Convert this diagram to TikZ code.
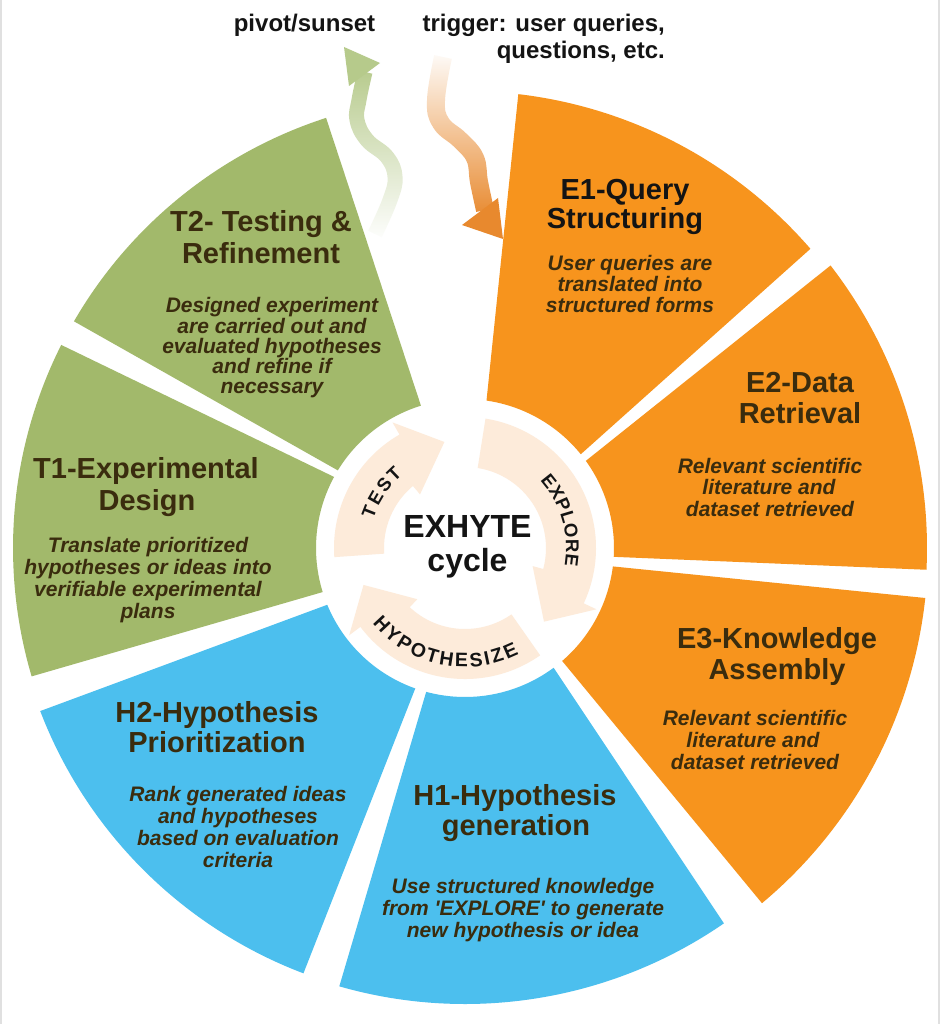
\documentclass[tikz,border=0pt]{standalone}
\usepackage{fontspec}
\setmainfont{Liberation Sans}
\usetikzlibrary{decorations.text,fadings}
\definecolor{orgC}{HTML}{F7941D}
\definecolor{grnC}{HTML}{A2B96B}
\definecolor{bluC}{HTML}{4CBFEE}
\definecolor{pchC}{HTML}{FDEBDA}
\definecolor{brnC}{HTML}{3A2C0E}
\definecolor{blkC}{HTML}{141414}
\definecolor{pivC}{HTML}{B6CA8B}
\definecolor{trgC}{HTML}{E8892E}
\tikzfading[name=fadeup, top color=transparent!0, middle color=transparent!20, bottom color=transparent!100]
\tikzfading[name=fadedown, top color=transparent!100, middle color=transparent!10, bottom color=transparent!0]
\newcommand\sectorshape[6]{\fill[#1] (#2:149) -- (#3:#6) arc[start angle=#3, end angle=#5, radius=#6pt] -- (#4:149) arc[start angle=#4, end angle=#2, radius=149pt] -- cycle;}
\newcommand\cyclearrow[3]{\fill[pchC] (#1:81) -- (#1:131) arc[start angle=#1, end angle=#2, radius=131pt] -- (#2:145) -- (#3:108) -- ({#2+10}:70) -- ({#2+10}:81) arc[start angle={#2+10}, end angle=#1, radius=81pt] -- cycle;}
\newcommand\ringfont{\fontsize{18.5}{19}\selectfont\bfseries}
\newcommand\ringfontb{\fontsize{19.5}{20}\selectfont\bfseries}
\tikzset{
  hdtxt/.style={font=\bfseries\fontsize{29}{30}\selectfont, text=brnC, inner sep=0pt, anchor=base},
  dsctxt/.style={font=\bfseries\itshape\fontsize{21}{22}\selectfont, text=brnC, inner sep=0pt, anchor=base},
  toplbl/.style={font=\bfseries\fontsize{24}{26}\selectfont, text=blkC, inner sep=0pt},
  coretxt/.style={font=\bfseries\fontsize{32}{34}\selectfont, text=blkC, inner sep=0pt, anchor=base},
}
\begin{document}
\begin{tikzpicture}[x=1pt,y=1pt]
\fill[white] (0,0) rectangle (940,-1024);
\useasboundingbox (0,0) rectangle (940,-1024);
\draw[black!12, line width=1.5pt] (1,0) -- (1,-1024);
\draw[black!12, line width=1.5pt] (939,0) -- (939,-1024);

\begin{scope}[shift={(465,-548)}]
  % sectors
  \sectorshape{orgC}{39.0}{40.9}{81.7}{83.3}{457}
  \sectorshape{orgC}{-3.4}{-2.7}{35.8}{37.7}{462}
  \sectorshape{orgC}{-49.3}{-50.1}{-7.1}{-6.2}{463}
  \sectorshape{bluC}{-105.1}{-106.0}{-53.5}{-55.4}{456}
  \sectorshape{bluC}{-157.6}{-159.0}{-109.5}{-110.8}{455}
  \sectorshape{grnC}{151.5}{153.3}{197.2}{196.5}{452}
  \sectorshape{grnC}{107.2}{107.9}{148.6}{149.9}{452}
  % cycle arrows
  \cyclearrow{184}{120}{101}
  \cyclearrow{81}{-25}{-43}
  \cyclearrow{-55}{-143}{-160}
  % ring labels
  \path[decorate, decoration={text along path, text={|\ringfont|{T\kern2.2pt}{E\kern2.2pt}{S\kern2.2pt}T}, text align=center, text color=blkC}]
    (178:96) arc[start angle=178, end angle=115, radius=96pt];
  \path[decorate, decoration={text along path, text={|\ringfont|{E\kern0.6pt}{X\kern0.6pt}{P\kern0.6pt}{L\kern0.6pt}{O\kern0.6pt}{R\kern0.6pt}E}, text align=center, text color=blkC}]
    (62:101) arc[start angle=62, end angle=-30, radius=101pt];
  \path[decorate, decoration={text along path, text={|\ringfontb|{H\kern2.4pt}{Y\kern2.4pt}{P\kern2.4pt}{O\kern2.4pt}{T\kern2.4pt}{H\kern2.4pt}{E\kern2.4pt}{S\kern2.4pt}{I\kern2.4pt}{Z\kern2.4pt}E}, text align=center, text color=blkC}]
    (-154:119) arc[start angle=-154, end angle=-50, radius=119pt];
\end{scope}

% centre
\node[coretxt] (core1) at (467.5,-537) {EXHYTE};
\node[coretxt] (core2) at (467.5,-571) {cycle};

% top labels
\node[toplbl, anchor=base] (pivot) at (304.5,-32) {pivot/sunset};
\node[toplbl, anchor=base east] (trig1) at (665,-32) {trigger: user queries,};
\node[toplbl, anchor=base east] (trig2) at (665,-59) {questions, etc.};

% pivot arrow
\draw[pivC, line width=15pt, path fading=fadeup] plot[smooth, tension=0.7] coordinates {(365,-72) (359,-100) (357,-120) (367,-140) (387,-157) (395,-177) (390,-200) (375,-234)};
\fill[pivC] (344,-47) -- (380,-63) -- (349,-86) -- cycle;
% trigger arrow
\draw[trgC, line width=18pt, path fading=fadedown] plot[smooth, tension=0.7] coordinates {(443,-57) (436,-100) (441,-123) (460,-140) (475,-158) (479,-182) (485,-210)};
\fill[trgC] (503,-239) -- (462,-225) -- (498,-198) -- cycle;

% E1
\node[hdtxt, text=blkC] (e1a) at (625,-200) {E1-Query};
\node[hdtxt, text=blkC] (e1b) at (625,-229) {Structuring};
\node[dsctxt] (e1c) at (630,-270) {User queries are};
\node[dsctxt] (e1d) at (630,-291) {translated into};
\node[dsctxt] (e1e) at (630,-312) {structured forms};
% E2
\node[hdtxt] (e2a) at (800,-392) {E2-Data};
\node[hdtxt] (e2b) at (800,-423) {Retrieval};
\node[dsctxt] (e2c) at (770,-473) {Relevant scientific};
\node[dsctxt] (e2d) at (769,-494) {literature and};
\node[dsctxt] (e2e) at (770,-516) {dataset retrieved};
% E3
\node[hdtxt] (e3a) at (777,-648) {E3-Knowledge};
\node[hdtxt] (e3b) at (777,-679) {Assembly};
\node[dsctxt] (e3c) at (755,-725) {Relevant scientific};
\node[dsctxt] (e3d) at (753,-747) {literature and};
\node[dsctxt] (e3e) at (755,-769) {dataset retrieved};
% H1
\node[hdtxt] (h1a) at (515,-805) {H1-Hypothesis};
\node[hdtxt] (h1b) at (516,-835) {generation};
\node[dsctxt] (h1c) at (523,-893) {Use structured knowledge};
\node[dsctxt] (h1d) at (523,-915) {from \textquotesingle EXPLORE\textquotesingle\ to generate};
\node[dsctxt] (h1e) at (523,-937) {new hypothesis or idea};
% H2
\node[hdtxt] (h2a) at (217,-722) {H2-Hypothesis};
\node[hdtxt] (h2b) at (217,-752) {Prioritization};
\node[dsctxt] (h2c) at (238,-801) {Rank generated ideas};
\node[dsctxt] (h2d) at (238,-823) {and hypotheses};
\node[dsctxt] (h2e) at (238,-845) {based on evaluation};
\node[dsctxt] (h2f) at (238,-867) {criteria};
% T1
\node[hdtxt] (t1a) at (146,-478) {T1-Experimental};
\node[hdtxt] (t1b) at (147,-510) {Design};
\node[dsctxt] (t1c) at (148,-552) {Translate prioritized};
\node[dsctxt] (t1d) at (148,-574) {hypotheses or ideas into};
\node[dsctxt] (t1e) at (148,-596) {verifiable experimental};
\node[dsctxt] (t1f) at (148,-618) {plans};
% T2
\node[hdtxt] (t2a) at (261,-232) {T2- Testing \&};
\node[hdtxt] (t2b) at (261,-263) {Refinement};
\node[dsctxt] (t2c) at (272,-312) {Designed experiment};
\node[dsctxt] (t2d) at (272,-333) {are carried out and};
\node[dsctxt] (t2e) at (272,-353) {evaluated hypotheses};
\node[dsctxt] (t2f) at (272,-373) {and refine if};
\node[dsctxt] (t2g) at (272,-393) {necessary};
\end{tikzpicture}
\end{document}
